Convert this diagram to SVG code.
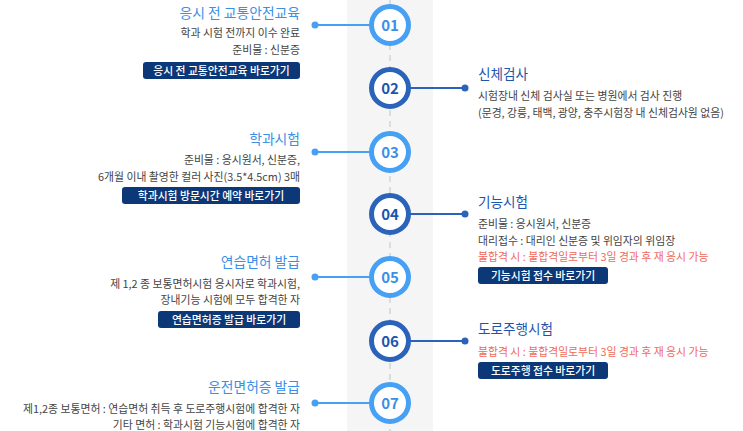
<svg xmlns="http://www.w3.org/2000/svg" width="743" height="431" viewBox="0 0 743 431">
<style>
.t{font-family:"Noto Sans CJK KR","Noto Sans",sans-serif}
.tl{font-size:13.8px;fill:#3b8fe6;text-anchor:end}
.tr{font-size:13.6px;fill:#1c55ad}
.b{font-size:10.85px;fill:#444}
.bl{text-anchor:end}
.red{fill:#f06a5c}
.btn{fill:#0c3877}
.bt{font-size:10.8px;fill:#fff;font-weight:500;text-anchor:middle}
.num{font-size:15px;font-weight:bold;text-anchor:middle}
.lc{stroke:#46a0f4;fill:#46a0f4}
.dc{stroke:#2a63b9;fill:#2a63b9}
</style>
<rect x="347" y="0" width="86" height="431" fill="#f5f5f5"/>
<line x1="390" y1="0" x2="390" y2="431" stroke="#dcdcdc" stroke-width="2" stroke-dasharray="6 5"/>
<g id="connectors">
<g class="lc"><line x1="315" y1="25" x2="370" y2="25" stroke-width="2"/><circle cx="315" cy="25" r="3.5" stroke="none"/></g>
<g class="dc"><line x1="410" y1="88" x2="465" y2="88" stroke-width="2"/><circle cx="465" cy="88" r="3.5" stroke="none"/></g>
<g class="lc"><line x1="315" y1="152" x2="370" y2="152" stroke-width="2"/><circle cx="315" cy="152" r="3.5" stroke="none"/></g>
<g class="dc"><line x1="410" y1="214" x2="465" y2="214" stroke-width="2"/><circle cx="465" cy="214" r="3.5" stroke="none"/></g>
<g class="lc"><line x1="315" y1="277" x2="370" y2="277" stroke-width="2"/><circle cx="315" cy="277" r="3.5" stroke="none"/></g>
<g class="dc"><line x1="410" y1="341" x2="465" y2="341" stroke-width="2"/><circle cx="465" cy="341" r="3.5" stroke="none"/></g>
<g class="lc"><line x1="315" y1="403" x2="370" y2="403" stroke-width="2"/><circle cx="315" cy="403" r="3.5" stroke="none"/></g>
</g>
<g id="step01">
<circle cx="390" cy="25" r="18.5" fill="#fff" stroke="#46a0f4" stroke-width="5"/>
<text class="t num" x="390" y="30.5" fill="#3b8fe6">01</text>
<text class="t tl" x="300" y="18">응시 전 교통안전교육</text>
<text class="t b bl" x="300" y="37">학과 시험 전까지 이수 완료</text>
<text class="t b bl" x="300" y="54">준비물 : 신분증</text>
<rect class="btn" x="143" y="62" width="157" height="17" rx="3"/>
<text class="t bt" x="221.5" y="74.5">응시 전 교통안전교육 바로가기</text>
</g>
<g id="step02">
<circle cx="390" cy="88" r="18.5" fill="#fff" stroke="#2a63b9" stroke-width="5"/>
<text class="t num" x="390" y="93.5" fill="#1c55ad">02</text>
<text class="t tr" x="478" y="79">신체검사</text>
<text class="t b" x="478" y="100">시험장내 신체 검사실 또는 병원에서 검사 진행</text>
<text class="t b" x="478" y="117">(문경, 강릉, 태백, 광양, 충주시험장 내 신체검사원 없음)</text>
</g>
<g id="step03">
<circle cx="390" cy="152" r="18.5" fill="#fff" stroke="#46a0f4" stroke-width="5"/>
<text class="t num" x="390" y="157.5" fill="#3b8fe6">03</text>
<text class="t tl" x="300" y="144">학과시험</text>
<text class="t b bl" x="300" y="164">준비물 : 응시원서, 신분증,</text>
<text class="t b bl" x="300" y="181">6개월 이내 촬영한 컬러 사진(3.5*4.5cm) 3매</text>
<rect class="btn" x="122" y="187" width="178" height="17" rx="3"/>
<text class="t bt" x="211" y="199.5">학과시험 방문시간 예약 바로가기</text>
</g>
<g id="step04">
<circle cx="390" cy="214" r="18.5" fill="#fff" stroke="#2a63b9" stroke-width="5"/>
<text class="t num" x="390" y="219.5" fill="#1c55ad">04</text>
<text class="t tr" x="478" y="207">기능시험</text>
<text class="t b" x="478" y="228">준비물 : 응시원서, 신분증</text>
<text class="t b" x="478" y="245">대리접수 : 대리인 신분증 및 위임자의 위임장</text>
<text class="t b red" x="478" y="261">불합격 시 : 불합격일로부터 3일 경과 후 재 응시 가능</text>
<rect class="btn" x="478" y="267" width="130" height="17" rx="3"/>
<text class="t bt" x="543" y="279.5">기능시험 접수 바로가기</text>
</g>
<g id="step05">
<circle cx="390" cy="277" r="18.5" fill="#fff" stroke="#46a0f4" stroke-width="5"/>
<text class="t num" x="390" y="282.5" fill="#3b8fe6">05</text>
<text class="t tl" x="300" y="267">연습면허 발급</text>
<text class="t b bl" x="300" y="288">제 1,2 종 보통면허시험 응시자로 학과시험,</text>
<text class="t b bl" x="300" y="304">장내기능 시험에 모두 합격한 자</text>
<rect class="btn" x="158" y="311" width="142" height="17" rx="3"/>
<text class="t bt" x="229" y="323.5">연습면허증 발급 바로가기</text>
</g>
<g id="step06">
<circle cx="390" cy="341" r="18.5" fill="#fff" stroke="#2a63b9" stroke-width="5"/>
<text class="t num" x="390" y="346.5" fill="#1c55ad">06</text>
<text class="t tr" x="478" y="334">도로주행시험</text>
<text class="t b red" x="478" y="356">불합격 시 : 불합격일로부터 3일 경과 후 재 응시 가능</text>
<rect class="btn" x="478" y="362" width="130" height="17" rx="3"/>
<text class="t bt" x="543" y="374.5">도로주행 접수 바로가기</text>
</g>
<g id="step07">
<circle cx="390" cy="403" r="18.5" fill="#fff" stroke="#46a0f4" stroke-width="5"/>
<text class="t num" x="390" y="408.5" fill="#3b8fe6">07</text>
<text class="t tl" x="300" y="392">운전면허증 발급</text>
<text class="t b bl" x="300" y="413">제1,2종 보통면허 : 연습면허 취득 후 도로주행시험에 합격한 자</text>
<text class="t b bl" x="300" y="428.5">기타 면허 : 학과시험 기능시험에 합격한 자</text>
</g>
</svg>
